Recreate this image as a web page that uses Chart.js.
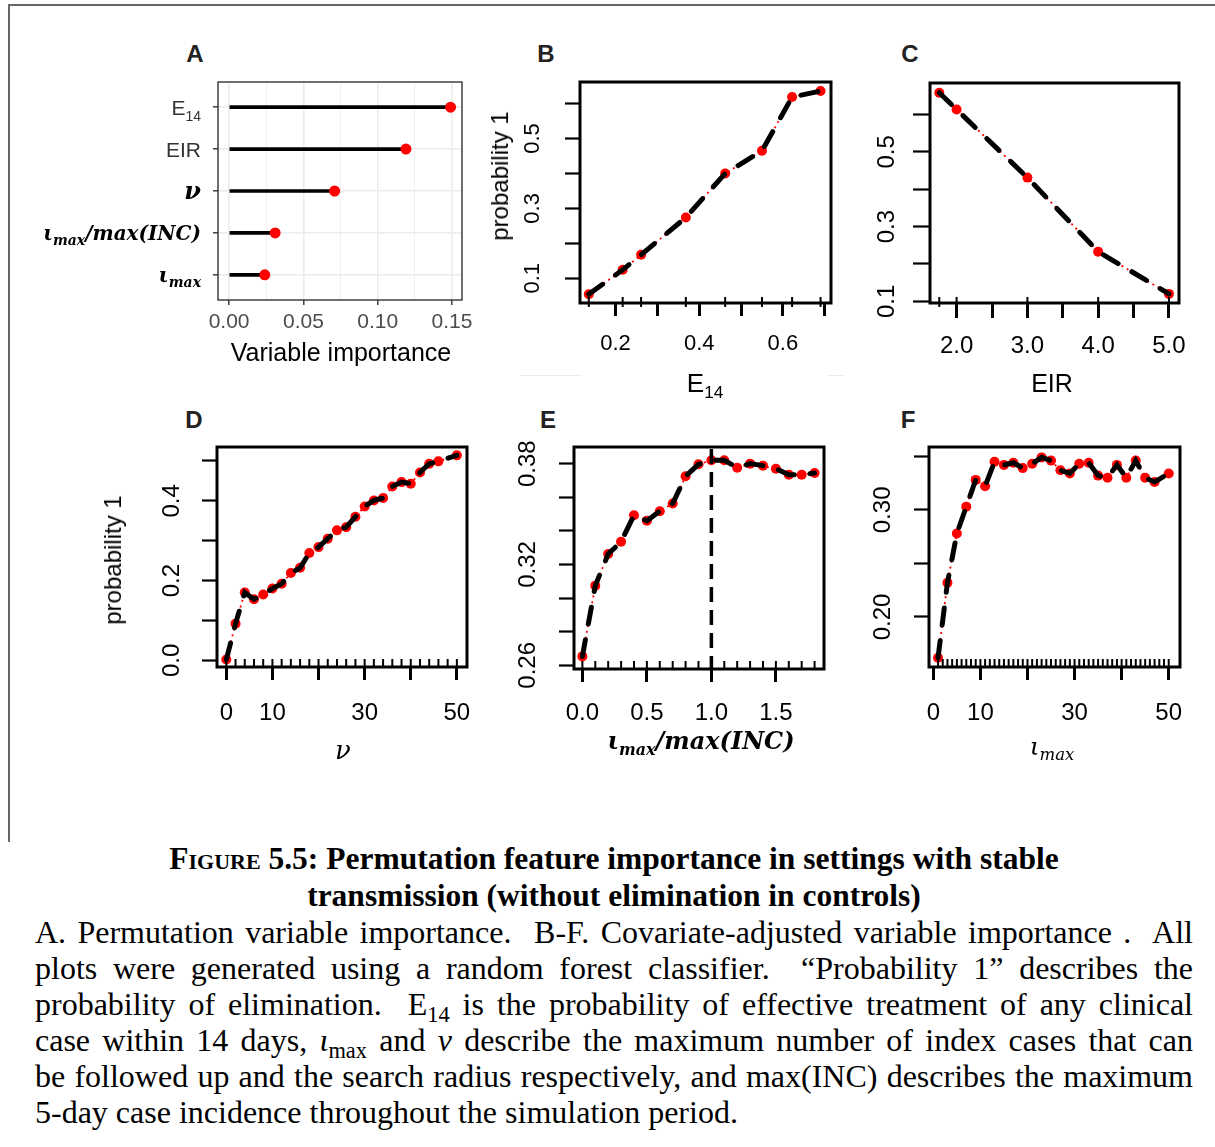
<!DOCTYPE html>
<html>
<head>
<meta charset="utf-8">
<script src="https://cdn.jsdelivr.net/npm/chart.js@4.4.1/dist/chart.umd.min.js"></script>
<style>
body { margin: 0; background: #fff; width: 1215px; height: 1147px; position: relative; overflow: hidden; font-family: "Liberation Sans", Arial, sans-serif; }
canvas { position: absolute; }
.t { position: absolute; white-space: nowrap; line-height: 1; transform: translate(-50%, -50%); color: #000; }
.rot { transform: translate(-50%, -50%) rotate(-90deg); }
.letter { font-weight: bold; font-size: 24px; color: #222; }
.m { font-family: "DejaVu Serif", serif; font-weight: bold; font-style: italic; }
.mi { font-family: "DejaVu Serif", serif; font-style: italic; }
sub { font-size: 0.66em; vertical-align: -0.35em; line-height: 0; }
#frameTop { position: absolute; left: 9px; top: 4px; width: 1206px; height: 1.5px; background: #666; }
#frameLeft { position: absolute; left: 8px; top: 4px; width: 1.5px; height: 838px; background: #666; }
.faint { position: absolute; height: 1px; background: #ececec; }
#cap { position: absolute; left: 35px; top: 840px; width: 1158px; font-family: "Liberation Serif", "Times New Roman", serif; color: #000; }
#cap .ct { font-weight: bold; font-size: 31.5px; line-height: 37px; text-align: center; white-space: nowrap; }
#cap .cb { font-size: 32px; line-height: 36px; white-space: nowrap; }
#cap .j { text-align: justify; text-align-last: justify; }
#cap sub { font-size: 0.7em; vertical-align: -0.3em; }
</style>
</head>
<body>
<div id="frameTop"></div>
<div id="frameLeft"></div>

<canvas id="chartA"></canvas>
<canvas id="chartB"></canvas>
<canvas id="chartC"></canvas>
<canvas id="chartD"></canvas>
<canvas id="chartE"></canvas>
<canvas id="chartF"></canvas>

<div class="t letter" style="left:195px; top:54px;">A</div>
<div class="t letter" style="left:546px; top:54px;">B</div>
<div class="t letter" style="left:910px; top:54px;">C</div>
<div class="t letter" style="left:194px; top:420px;">D</div>
<div class="t letter" style="left:548px; top:420px;">E</div>
<div class="t letter" style="left:908px; top:420px;">F</div>

<div class="t" style="left:341px; top:352px; font-size:25px;">Variable importance</div>
<div class="t rot" style="left:500px; top:176px; font-size:24px;">probability 1</div>
<div class="t" style="left:705px; top:383px; font-size:26px;">E<sub>14</sub></div>
<div class="t" style="left:1052px; top:383px; font-size:25px;">EIR</div>
<div class="t rot" style="left:113px; top:560px; font-size:24px;">probability 1</div>
<div class="t mi" style="left:343px; top:750px; font-size:26px;">ν</div>
<div class="t m" style="left:701px; top:741px; font-size:24px;">ι<sub>max</sub>/max(INC)</div>
<div class="t mi" style="left:1052px; top:746px; font-size:25px;">ι<sub>max</sub></div>

<div class="faint" style="left:520px; top:375px; width:62px;"></div>
<div class="faint" style="left:828px; top:375px; width:17px;"></div>

<div id="cap">
  <div class="ct">F<span style="font-variant: small-caps;">igure</span> 5.5: Permutation feature importance in settings with stable</div>
  <div class="ct">transmission (without elimination in controls)</div>
  <div class="cb j">A. Permutation variable importance.&nbsp; B-F. Covariate-adjusted variable importance .&nbsp; All</div>
  <div class="cb j">plots were generated using a random forest classifier.&nbsp; “Probability 1” describes the</div>
  <div class="cb j">probability of elimination.&nbsp; E<sub>14</sub> is the probability of effective treatment of any clinical</div>
  <div class="cb j">case within 14 days, <i>ι</i><sub>max</sub> and <i>ν</i> describe the maximum number of index cases that can</div>
  <div class="cb j">be followed up and the search radius respectively, and max(INC) describes the maximum</div>
  <div class="cb">5-day case incidence throughout the simulation period.</div>
</div>

<script>
// ---- panel A: permutation importance ----
const aVars = ["E14", "EIR", "ν", "ιmax/max(INC)", "ιmax"];
const aImportance = [0.149, 0.119, 0.071, 0.031, 0.024];
const aXTicks = [0, 0.025, 0.05, 0.075, 0.10, 0.125, 0.15];
const aXLabels = ["0.00", "", "0.05", "", "0.10", "", "0.15"];

// ---- panel B: E14 ----
const bE14 = [0.136, 0.217, 0.261, 0.368, 0.462, 0.550, 0.622, 0.690];
const bProb = [0.054, 0.124, 0.167, 0.274, 0.400, 0.465, 0.619, 0.636];
const bXTicks = [0.2, 0.3, 0.4, 0.5, 0.6, 0.7];
const bXLabels = ["0.2", "", "0.4", "", "0.6", ""];
const bYTicks = [0.1, 0.2, 0.3, 0.4, 0.5, 0.6];
const bYLabels = ["0.1", "", "0.3", "", "0.5", ""];

// ---- panel C: EIR ----
const cEIR = [1.755, 2.0, 3.0, 4.0, 5.0];
const cProb = [0.658, 0.613, 0.431, 0.233, 0.120];
const cXTicks = [2.0, 2.5, 3.0, 3.5, 4.0, 4.5, 5.0];
const cXLabels = ["2.0", "", "3.0", "", "4.0", "", "5.0"];
const cYTicks = [0.1, 0.2, 0.3, 0.4, 0.5, 0.6];
const cYLabels = ["0.1", "", "0.3", "", "0.5", ""];

// ---- panel D: search radius nu ----
const dNu = [0, 2, 4, 6, 8, 10, 12, 14, 16, 18, 20, 22, 24, 26, 28, 30, 32, 34, 36, 38, 40, 42, 44, 46, 50];
const dProb = [0.002, 0.092, 0.170, 0.153, 0.165, 0.180, 0.192, 0.219, 0.232, 0.269, 0.284, 0.305, 0.326,
               0.334, 0.360, 0.386, 0.401, 0.407, 0.436, 0.447, 0.443, 0.471, 0.493, 0.499, 0.514];
const dRug = [0, 2, 4, 6, 8, 10, 12, 14, 16, 18, 20, 22, 24, 26, 28, 30, 32, 34, 36, 38, 40, 42, 44, 46, 48, 50];
const dXTicks = [0, 10, 20, 30, 40, 50];
const dXLabels = ["0", "10", "", "30", "", "50"];
const dYTicks = [0, 0.1, 0.2, 0.3, 0.4, 0.5];
const dYLabels = ["0.0", "", "0.2", "", "0.4", ""];

// ---- panel E: imax / max(INC) ----
const eRatio = [0, 0.1, 0.2, 0.3, 0.4, 0.5, 0.6, 0.7, 0.8, 0.9, 1.0, 1.1, 1.2, 1.3, 1.4, 1.5, 1.6, 1.7, 1.8];
const eProb = [0.2653, 0.3074, 0.3262, 0.3335, 0.3493, 0.3460, 0.3517, 0.3563, 0.3725, 0.3796,
               0.3820, 0.3820, 0.3776, 0.3800, 0.3788, 0.3770, 0.3734, 0.3734, 0.3744];
const eRefLine = 1.0;
const eXTicks = [0, 0.5, 1.0, 1.5];
const eXLabels = ["0.0", "0.5", "1.0", "1.5"];
const eYTicks = [0.26, 0.28, 0.30, 0.32, 0.34, 0.36, 0.38];
const eYLabels = ["0.26", "", "", "0.32", "", "", "0.38"];

// ---- panel F: imax ----
const fImax = [1, 3, 5, 7, 9, 11, 13, 15, 17, 19, 21, 23, 25, 27, 29, 31, 33, 35, 37, 39, 41, 43, 45, 47, 50];
const fProb = [0.162, 0.232, 0.278, 0.303, 0.328, 0.322, 0.345, 0.342, 0.344, 0.339, 0.343, 0.349, 0.346,
               0.337, 0.334, 0.343, 0.344, 0.332, 0.330, 0.342, 0.330, 0.346, 0.330, 0.326, 0.334];
const fRug = [1, 2, 3, 4, 5, 6, 7, 8, 9, 10, 11, 12, 13, 14, 15, 16, 17, 18, 19, 20, 21, 22, 23, 24, 25,
              26, 27, 28, 29, 30, 31, 32, 33, 34, 35, 36, 37, 38, 39, 40, 41, 42, 43, 44, 45, 46, 47, 48, 49, 50];
const fXTicks = [0, 10, 20, 30, 40, 50];
const fXLabels = ["0", "10", "", "30", "", "50"];
const fYTicks = [0.20, 0.25, 0.30, 0.35];
const fYLabels = ["0.20", "", "0.30", ""];

const SANS = '"Liberation Sans", Arial, sans-serif';
const SERIF = '"DejaVu Serif", serif';

// place a canvas so that the chart area lands on the given box
function placeCanvas(id, box, M) {
    const cv = document.getElementById(id);
    cv.width = box.r - box.l + M.l + M.r;
    cv.height = box.b - box.t + M.t + M.b;
    cv.style.left = (box.l - M.l) + "px";
    cv.style.top = (box.t - M.t) + "px";
    return cv;
}

// R base-graphics look: box, rug, rotated y labels
function rDeco(o) {
    return {
        id: "rDeco",
        afterDatasetsDraw(chart) {
            const { ctx, chartArea: ca, scales: { x, y } } = chart;
            ctx.save();
            if (o.vline !== undefined) {
                const px = x.getPixelForValue(o.vline);
                ctx.strokeStyle = "#000";
                ctx.lineWidth = 3.5;
                ctx.setLineDash([15, 8]);
                ctx.beginPath();
                ctx.moveTo(px, ca.top + 2);
                ctx.lineTo(px, ca.bottom);
                ctx.stroke();
                ctx.setLineDash([]);
            }
            ctx.strokeStyle = "#000";
            ctx.lineWidth = 2;
            o.rug.forEach(v => {
                const px = x.getPixelForValue(v);
                ctx.beginPath();
                ctx.moveTo(px, ca.bottom - o.rugIn);
                ctx.lineTo(px, ca.bottom + o.rugOut);
                ctx.stroke();
            });
            ctx.lineWidth = 3;
            ctx.strokeRect(ca.left, ca.top, ca.right - ca.left, ca.bottom - ca.top);

            ctx.fillStyle = "#000";
            ctx.font = o.fontSize + "px " + SANS;
            ctx.textAlign = "center";
            ctx.textBaseline = "middle";
            o.xTicks.forEach((v, i) => {
                if (o.xLabels[i]) ctx.fillText(o.xLabels[i], x.getPixelForValue(v), ca.bottom + o.xOff);
            });
            o.yTicks.forEach((v, i) => {
                if (!o.yLabels[i]) return;
                ctx.save();
                ctx.translate(ca.left - o.yOff, y.getPixelForValue(v));
                ctx.rotate(-Math.PI / 2);
                ctx.fillText(o.yLabels[i], 0, 0);
                ctx.restore();
            });
            ctx.restore();
        }
    };
}

function rChart(id, box, o) {
    const M = { l: 100, t: 12, r: 16, b: 72 };
    const cv = placeCanvas(id, box, M);
    const pts = o.xs.map((v, i) => ({ x: v, y: o.ys[i] }));
    return new Chart(cv, {
        type: "scatter",
        data: {
            datasets: [
                { data: pts, showLine: true, borderColor: "#000", borderWidth: 5, borderDash: [17, 16],
                  borderCapStyle: "round", pointRadius: 0, order: 1 },
                { data: pts, showLine: true, borderColor: "#ff0000", borderWidth: 1.8, borderDash: [2, 4],
                  pointRadius: 5, pointBackgroundColor: "#ff0000", pointBorderWidth: 0, order: 2 }
            ]
        },
        options: {
            responsive: false,
            animation: false,
            layout: { padding: { top: M.t, right: M.r, left: 0, bottom: 0 } },
            plugins: { legend: { display: false }, tooltip: { enabled: false } },
            scales: {
                x: {
                    type: "linear", min: o.xMin, max: o.xMax, bounds: "data",
                    afterBuildTicks: s => { s.ticks = o.xTicks.map(v => ({ value: v })); },
                    afterFit: s => { s.height = M.b; },
                    ticks: { display: false },
                    border: { display: false },
                    grid: { drawOnChartArea: false, tickLength: o.xTickLen || 13, tickWidth: 3, tickColor: "#000" }
                },
                y: {
                    type: "linear", min: o.yMin, max: o.yMax, bounds: "data",
                    afterBuildTicks: s => { s.ticks = o.yTicks.map(v => ({ value: v })); },
                    afterFit: s => { s.width = M.l; },
                    ticks: { display: false },
                    border: { display: false },
                    grid: { drawOnChartArea: false, tickLength: o.yTickLen || 15, tickWidth: 2.2, tickColor: "#000" }
                }
            }
        },
        plugins: [rDeco(o)]
    });
}

// ---- panel A (ggplot-like lollipop) ----
function aLabelParts(name) {
    const bi = sz => "bold italic " + sz + "px " + SERIF;
    if (name === "E14") return [{ t: "E", f: "21px " + SANS, c: "#333" }, { t: "14", f: "14px " + SANS, c: "#333", dy: 6 }];
    if (name === "EIR") return [{ t: "EIR", f: "21px " + SANS, c: "#333" }];
    if (name === "ν") return [{ t: "ν", f: bi(24), c: "#000" }];
    if (name === "ιmax/max(INC)") return [{ t: "ι", f: bi(20), c: "#000" }, { t: "max", f: bi(14), c: "#000", dy: 5 },
                                          { t: "/max(INC)", f: bi(20), c: "#000" }];
    return [{ t: "ι", f: bi(21), c: "#000" }, { t: "max", f: bi(14), c: "#000", dy: 5 }];
}

const aDeco = {
    id: "aDeco",
    afterDatasetsDraw(chart) {
        const { ctx, chartArea: ca, scales: { x, y } } = chart;
        ctx.save();
        ctx.strokeStyle = "#333";
        ctx.lineWidth = 1.4;
        ctx.strokeRect(ca.left, ca.top, ca.right - ca.left, ca.bottom - ca.top);
        ctx.fillStyle = "#4d4d4d";
        ctx.font = "21px " + SANS;
        ctx.textAlign = "center";
        ctx.textBaseline = "middle";
        aXTicks.forEach((v, i) => {
            if (aXLabels[i]) ctx.fillText(aXLabels[i], x.getPixelForValue(v), ca.bottom + 22);
        });
        ctx.textAlign = "left";
        ctx.textBaseline = "alphabetic";
        aVars.forEach((name, i) => {
            const parts = aLabelParts(name);
            let w = 0;
            parts.forEach(p => { ctx.font = p.f; w += ctx.measureText(p.t).width; });
            let px = ca.left - 17 - w;
            const py = y.getPixelForValue(i + 1) + 7.5;
            parts.forEach(p => {
                ctx.font = p.f;
                ctx.fillStyle = p.c;
                ctx.fillText(p.t, px, py + (p.dy || 0));
                px += ctx.measureText(p.t).width;
            });
        });
        ctx.restore();
    }
};

function isMajorA(v) {
    return Math.abs(v / 0.05 - Math.round(v / 0.05)) < 1e-6;
}

(function () {
    const box = { l: 218, t: 82, r: 462, b: 300 };
    const M = { l: 210, t: 12, r: 30, b: 40 };
    const cv = placeCanvas("chartA", box, M);
    const pts = aImportance.map((v, i) => ({ x: v, y: i + 1 }));
    new Chart(cv, {
        type: "bar",
        data: {
            datasets: [
                { type: "bar", data: pts, backgroundColor: "#000", barThickness: 3, order: 2 },
                { type: "scatter", data: pts, pointRadius: 5.5, pointBackgroundColor: "#ff0000", pointBorderWidth: 0, order: 1 }
            ]
        },
        options: {
            indexAxis: "y",
            responsive: false,
            animation: false,
            layout: { padding: { top: M.t, right: M.r, left: 0, bottom: 0 } },
            plugins: { legend: { display: false }, tooltip: { enabled: false } },
            scales: {
                x: {
                    type: "linear", min: -0.00745, max: 0.1567, bounds: "data",
                    afterBuildTicks: s => { s.ticks = aXTicks.map(v => ({ value: v })); },
                    afterFit: s => { s.height = M.b; },
                    ticks: { display: false },
                    border: { display: false },
                    grid: {
                        color: "#ebebeb",
                        lineWidth: c => isMajorA(c.tick.value) ? 1.6 : 0.8,
                        tickColor: c => isMajorA(c.tick.value) ? "#333" : "rgba(0,0,0,0)",
                        tickLength: 5, tickWidth: 1.4
                    }
                },
                y: {
                    type: "linear", reverse: true, offset: false, min: 0.4, max: 5.6, bounds: "data",
                    afterBuildTicks: s => { s.ticks = aVars.map((n, i) => ({ value: i + 1 })); },
                    afterFit: s => { s.width = M.l; },
                    ticks: { display: false },
                    border: { display: false },
                    grid: { offset: false, color: "#ebebeb", lineWidth: 1.6, tickColor: "#333", tickLength: 5, tickWidth: 1.4 }
                }
            }
        },
        plugins: [aDeco]
    });
})();

rChart("chartB", { l: 580, t: 82, r: 831, b: 303 }, {
    xs: bE14, ys: bProb, xMin: 0.115, xMax: 0.715, yMin: 0.029, yMax: 0.662,
    xTicks: bXTicks, xLabels: bXLabels, yTicks: bYTicks, yLabels: bYLabels,
    rug: bE14, rugIn: 6, rugOut: 4, fontSize: 22, xOff: 41, yOff: 47
});

rChart("chartC", { l: 930, t: 83, r: 1179, b: 303 }, {
    xs: cEIR, ys: cProb, xMin: 1.624, xMax: 5.142, yMin: 0.0956, yMax: 0.684,
    xTicks: cXTicks, xLabels: cXLabels, yTicks: cYTicks, yLabels: cYLabels,
    rug: cEIR, rugIn: 6, rugOut: 4, fontSize: 24, xOff: 43.5, yOff: 43, xTickLen: 15, yTickLen: 17
});

rChart("chartD", { l: 217, t: 447, r: 467, b: 667 }, {
    xs: dNu, ys: dProb, xMin: -2.02, xMax: 52.2, yMin: -0.0167, yMax: 0.535,
    xTicks: dXTicks, xLabels: dXLabels, yTicks: dYTicks, yLabels: dYLabels,
    rug: dRug, rugIn: 8, rugOut: 0, fontSize: 24, xOff: 46, yOff: 45
});

rChart("chartE", { l: 574, t: 447, r: 824, b: 669 }, {
    xs: eRatio, ys: eProb, xMin: -0.065, xMax: 1.873, yMin: 0.2578, yMax: 0.3899,
    xTicks: eXTicks, xLabels: eXLabels, yTicks: eYTicks, yLabels: eYLabels,
    rug: eRatio, rugIn: 8, rugOut: 0, fontSize: 24, xOff: 44, yOff: 46, vline: eRefLine
});

rChart("chartF", { l: 929, t: 447, r: 1180, b: 667 }, {
    xs: fImax, ys: fProb, xMin: -0.92, xMax: 52.4, yMin: 0.1533, yMax: 0.3587,
    xTicks: fXTicks, xLabels: fXLabels, yTicks: fYTicks, yLabels: fYLabels,
    rug: fRug, rugIn: 8, rugOut: 0, fontSize: 24, xOff: 46, yOff: 46
});
</script>
</body>
</html>
